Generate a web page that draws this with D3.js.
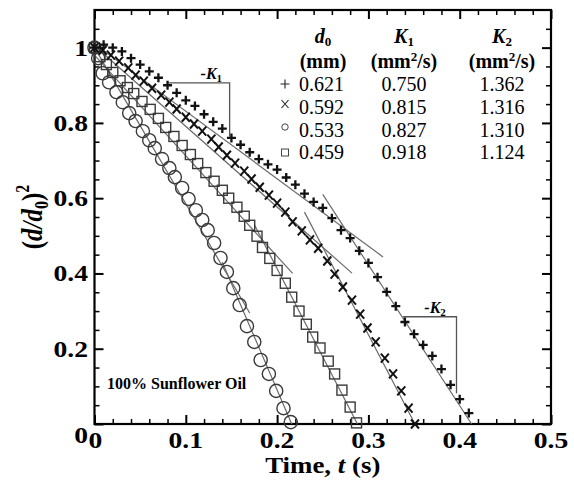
<!DOCTYPE html>
<html><head><meta charset="utf-8">
<script src="https://cdn.jsdelivr.net/npm/d3@7"></script>
<style>
html,body{margin:0;padding:0;background:#fff;}
text{font-family:"Liberation Serif","Tinos","DejaVu Serif","Times New Roman",serif;}
</style></head><body>
<svg id="chart" width="574" height="481" font-family="Liberation Serif, DejaVu Serif, serif"></svg>
<script>
// Normalised squared diameter (d/d0)^2 vs time t (s), 100% sunflower oil droplets
const plusPoints = [[0,1.0],[0.01,1.008],[0.02,1.0],[0.03,0.99],[0.04,0.972],[0.05,0.955],[0.06,0.937],[0.07,0.92],[0.08,0.9],[0.09,0.88],[0.1,0.86],[0.11,0.845],[0.12,0.823],[0.13,0.803],[0.14,0.785],[0.15,0.76],[0.16,0.742],[0.17,0.722],[0.18,0.704],[0.19,0.69],[0.2,0.676],[0.21,0.655],[0.22,0.636],[0.23,0.612],[0.24,0.59],[0.25,0.574],[0.26,0.547],[0.27,0.515],[0.28,0.494],[0.29,0.46],[0.3,0.428],[0.31,0.39],[0.32,0.351],[0.33,0.313],[0.34,0.271],[0.35,0.239],[0.36,0.21],[0.37,0.181],[0.38,0.146],[0.39,0.104],[0.4,0.066],[0.41,0.029]];
const crossPoints = [[0,1.0],[0.009,0.993],[0.018,0.98],[0.027,0.964],[0.037,0.946],[0.045,0.927],[0.054,0.911],[0.063,0.892],[0.073,0.874],[0.082,0.855],[0.09,0.837],[0.1,0.815],[0.109,0.797],[0.118,0.778],[0.128,0.757],[0.136,0.736],[0.145,0.714],[0.154,0.693],[0.164,0.672],[0.172,0.651],[0.181,0.629],[0.191,0.608],[0.2,0.587],[0.209,0.563],[0.217,0.537],[0.227,0.513],[0.236,0.489],[0.245,0.467],[0.255,0.433],[0.263,0.398],[0.272,0.364],[0.282,0.329],[0.291,0.292],[0.299,0.255],[0.308,0.218],[0.318,0.175],[0.327,0.133],[0.336,0.088],[0.344,0.042],[0.351,0.0]];
const circlePoints = [[0,1.0],[0.004,0.972],[0.009,0.932],[0.016,0.908],[0.024,0.882],[0.031,0.855],[0.038,0.826],[0.045,0.805],[0.053,0.778],[0.06,0.754],[0.066,0.733],[0.074,0.704],[0.082,0.68],[0.088,0.656],[0.096,0.627],[0.103,0.598],[0.111,0.568],[0.118,0.542],[0.124,0.515],[0.131,0.481],[0.138,0.441],[0.145,0.404],[0.152,0.361],[0.159,0.316],[0.167,0.26],[0.175,0.218],[0.182,0.17],[0.191,0.133],[0.199,0.088],[0.207,0.042],[0.215,0.005]];
const squarePoints = [[0,1.0],[0.006,0.976],[0.013,0.955],[0.02,0.934],[0.028,0.912],[0.036,0.894],[0.043,0.878],[0.052,0.857],[0.061,0.836],[0.07,0.812],[0.078,0.788],[0.087,0.764],[0.096,0.74],[0.105,0.716],[0.113,0.692],[0.122,0.668],[0.131,0.645],[0.14,0.621],[0.147,0.6],[0.156,0.576],[0.164,0.552],[0.17,0.528],[0.178,0.499],[0.184,0.469],[0.192,0.44],[0.2,0.408],[0.209,0.374],[0.216,0.337],[0.224,0.3],[0.232,0.265],[0.239,0.231],[0.247,0.202],[0.256,0.167],[0.263,0.133],[0.271,0.09],[0.28,0.045],[0.287,0.003]];

// Linear fits for the two regimes (start and end of each drawn segment, [t, value])
const fitK1 = [[[0,1.01],[0.316,0.444]], [[0,1.005],[0.282,0.401]], [[0,1.0],[0.17,0.295]], [[0,0.98],[0.217,0.40]]];
const fitK2 = [[[0.25,0.61],[0.413,0.0]], [[0.23,0.563],[0.351,0.0]], [[0.14,0.43],[0.216,0.0]], [[0.175,0.53],[0.288,0.0]]];

// Slope brackets
const bracketK1 = [[0.081,0.9065],[0.148,0.9065],[0.148,0.763]];
const bracketK2 = [[0.338,0.285],[0.3965,0.285],[0.3965,0.0815]];

// Legend table
const legendSymbols = ["plus","cross","circle","square"];
const d0Values = ["0.621","0.592","0.533","0.459"];
const k1Values = ["0.750","0.815","0.827","0.918"];
const k2Values = ["1.362","1.316","1.310","1.124"];

// Axis ticks
const xTickVals = [0,0.1,0.2,0.3,0.4,0.5];
const xTickLabels = ["0","0.1","0.2","0.3","0.4","0.5"];
const yTickVals = [0,0.2,0.4,0.6,0.8,1];
const yTickLabels = ["0","0.2","0.4","0.6","0.8","1"];
const xMinor = d3.range(0,0.5001,0.02).filter(v => Math.abs(v*10-Math.round(v*10))>1e-6);
const yMinor = d3.range(0,1.0501,0.05).filter(v => Math.abs(v*5-Math.round(v*5))>1e-6);

const svg = d3.select("#chart");
const x = d3.scaleLinear().domain([0,0.5]).range([94.5,551]);
const y = d3.scaleLinear().domain([0,1.1]).range([424,10]);

// ticks on all four sides, pointing inwards
function ticks(axisGen, tr, vals, len, sw){
  const g = svg.append("g").attr("transform", tr)
    .call(axisGen.tickValues(vals).tickSize(-len).tickFormat(""));
  g.select(".domain").remove();
  g.selectAll("line").attr("stroke","#000").attr("stroke-width",sw);
}
ticks(d3.axisBottom(x), "translate(0,424)", xTickVals, 9, 2);
ticks(d3.axisBottom(x), "translate(0,424)", xMinor, 5, 1.5);
ticks(d3.axisTop(x), "translate(0,10)", xTickVals, 9, 2);
ticks(d3.axisTop(x), "translate(0,10)", xMinor, 5, 1.5);
ticks(d3.axisLeft(y), "translate(94.5,0)", yTickVals, 9, 2);
ticks(d3.axisLeft(y), "translate(94.5,0)", yMinor, 5, 1.5);
ticks(d3.axisRight(y), "translate(551,0)", yTickVals, 9, 2);
ticks(d3.axisRight(y), "translate(551,0)", yMinor, 5, 1.5);

// frame
svg.append("rect").attr("x",x(0)).attr("y",y(1.1)).attr("width",x(0.5)-x(0)).attr("height",y(0)-y(1.1))
  .attr("fill","none").attr("stroke","#000").attr("stroke-width",2.2);

// tick labels (bold serif, slightly wide)
const sx = 1.15;
xTickVals.forEach((v,i) => {
  svg.append("g").attr("transform",`translate(${x(v)+(i===0?1:0)},448) scale(${sx},1)`)
    .append("text").attr("text-anchor","middle").attr("font-size",24).attr("font-weight","bold").text(xTickLabels[i]);
});
yTickVals.forEach((v,i) => {
  svg.append("g").attr("transform",`translate(88,${y(v)+(v===0?19:8)}) scale(${sx},1)`)
    .append("text").attr("text-anchor","end").attr("font-size",24).attr("font-weight","bold").text(yTickLabels[i]);
});

// axis titles
const xt = svg.append("g").attr("transform",`translate(${(x(0)+x(0.5))/2},473) scale(1.12,1)`)
  .append("text").attr("text-anchor","middle").attr("font-size",24).attr("font-weight","bold");
xt.append("tspan").text("Time, ");
xt.append("tspan").attr("font-style","italic").text("t");
xt.append("tspan").text(" (s)");

const yt = svg.append("g").attr("transform",`translate(42,217) rotate(-90) scale(1,1.15)`)
  .append("text").attr("text-anchor","middle").attr("font-size",25).attr("font-weight","bold");
yt.append("tspan").text("(");
yt.append("tspan").attr("font-style","italic").text("d/d");
yt.append("tspan").attr("font-size",16).attr("dy",5).text("0");
yt.append("tspan").attr("dy",-5).text(")");
yt.append("tspan").attr("font-size",16).attr("dy",-11).text("2");

// fit lines
const lineGen = d3.line().x(d => x(d[0])).y(d => y(d[1]));
const fitG = svg.append("g").attr("fill","none").attr("stroke","#6a6a6a").attr("stroke-width",1.2);
fitK1.concat(fitK2).forEach(seg => fitG.append("path").attr("d", lineGen(seg)));

// slope brackets
svg.append("path").attr("d", lineGen(bracketK1)).attr("fill","none").attr("stroke","#555").attr("stroke-width",1.3);
svg.append("path").attr("d", lineGen(bracketK2)).attr("fill","none").attr("stroke","#555").attr("stroke-width",1.3);
function kLabel(px, py, sub){
  const t = svg.append("text").attr("x",px).attr("y",py).attr("text-anchor","middle")
    .attr("font-size",16).attr("font-weight","bold").attr("font-style","italic");
  t.append("tspan").text("-K");
  t.append("tspan").attr("font-size",11).attr("font-style","normal").attr("dy",3).text(sub);
}
kLabel(x(0.128), y(0.9065)-4, "1");
kLabel(x(0.373), y(0.285)-4, "2");

// markers
const circG = svg.append("g").attr("fill","none").attr("stroke","#3a3a3a").attr("stroke-width",1.4);
circG.selectAll("circle").data(circlePoints).join("circle")
  .attr("cx", d => x(d[0])).attr("cy", d => y(d[1])).attr("r", 6.6);
const sqG = svg.append("g").attr("fill","none").attr("stroke","#3a3a3a").attr("stroke-width",1.4);
sqG.selectAll("rect").data(squarePoints).join("rect")
  .attr("x", d => x(d[0])-5).attr("y", d => y(d[1])-5).attr("width",10).attr("height",10);
const crossG = svg.append("g").attr("fill","none").attr("stroke","#111").attr("stroke-width",2);
crossG.selectAll("path").data(crossPoints).join("path")
  .attr("d", d => `M${x(d[0])-4},${y(d[1])-4.5}L${x(d[0])+4},${y(d[1])+4.5}M${x(d[0])-4},${y(d[1])+4.5}L${x(d[0])+4},${y(d[1])-4.5}`);
const plusG = svg.append("g").attr("fill","none").attr("stroke","#111").attr("stroke-width",2.3);
plusG.selectAll("path").data(plusPoints).join("path")
  .attr("d", d => `M${x(d[0])-4.5},${y(d[1])}H${x(d[0])+4.5}M${x(d[0])},${y(d[1])-4.5}V${y(d[1])+4.5}`);

// legend table
const lg = svg.append("g");
function header(cx, cy, main, sub, italic){
  const t = lg.append("text").attr("x",cx).attr("y",cy).attr("text-anchor","middle")
    .attr("font-size",20).attr("font-weight","bold");
  t.append("tspan").attr("font-style", italic ? "italic" : "normal").text(main);
  t.append("tspan").attr("font-size",13).attr("dy",3).text(sub);
}
header(323, 43, "d", "0", true);
header(404, 43, "K", "1", true);
header(502, 43, "K", "2", true);
lg.append("text").attr("x",323).attr("y",68).attr("text-anchor","middle").attr("font-size",20).attr("font-weight","bold").text("(mm)");
[404,502].forEach(cx => {
  const t = lg.append("text").attr("x",cx).attr("y",68).attr("text-anchor","middle").attr("font-size",20).attr("font-weight","bold");
  t.append("tspan").text("(mm");
  t.append("tspan").attr("font-size",13).attr("dy",-7).text("2");
  t.append("tspan").attr("dy",7).text("/s)");
});
const rowY = [91,114,137,159];
legendSymbols.forEach((s,i) => {
  const cy = rowY[i]-7, cx = 285;
  const sym = lg.append("path").attr("fill","none").attr("stroke","#222").attr("stroke-width",1.1);
  if (s==="plus") sym.attr("d",`M${cx-4.5},${cy}H${cx+4.5}M${cx},${cy-4.5}V${cy+4.5}`);
  if (s==="cross") sym.attr("d",`M${cx-3.5},${cy-7}L${cx+3.5},${cy+1}M${cx-3.5},${cy+1}L${cx+3.5},${cy-7}`);
  if (s==="circle") lg.append("circle").attr("cx",cx).attr("cy",cy-3).attr("r",3.2).attr("fill","none").attr("stroke","#444").attr("stroke-width",1);
  if (s==="square") lg.append("rect").attr("x",cx-3.5).attr("y",cy-3).attr("width",7).attr("height",7).attr("fill","none").attr("stroke","#444").attr("stroke-width",1);
  lg.append("text").attr("x",299).attr("y",rowY[i]).attr("font-size",20).text(d0Values[i]);
  lg.append("text").attr("x",404).attr("y",rowY[i]).attr("text-anchor","middle").attr("font-size",20).text(k1Values[i]);
  lg.append("text").attr("x",502).attr("y",rowY[i]).attr("text-anchor","middle").attr("font-size",20).text(k2Values[i]);
});

// annotation
svg.append("text").attr("x",107).attr("y",389).attr("font-size",16).attr("font-weight","bold").text("100% Sunflower Oil");
</script>
</body></html>
